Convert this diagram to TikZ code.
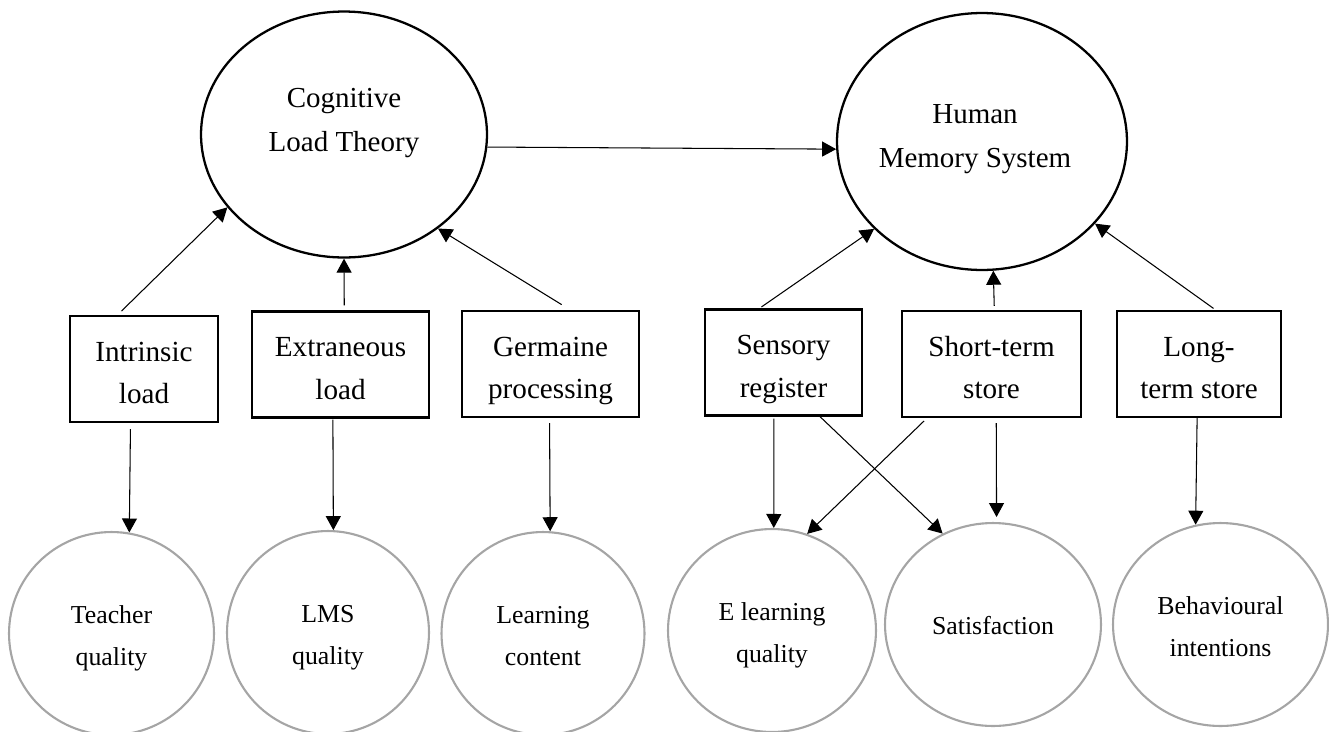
\documentclass[tikz,border=0pt]{standalone}
\usepackage{fontspec}
\setmainfont{Liberation Serif}
\usepackage{tikz}
\usetikzlibrary{arrows.meta, shapes.geometric}
\definecolor{ringgray}{RGB}{165,165,165}

\begin{document}
\begin{tikzpicture}[
  x=0.02cm, y=-0.02cm,
  theory/.style={
    draw, ellipse, line width=1.3pt, inner sep=0pt
  },
  factor/.style={
    draw, rectangle, line width=1.3pt, inner sep=0pt,
    align=center, font=\fontsize{16.6}{24}\selectfont,
    text height=47.3pt, text depth=8pt,
    minimum height=2.12cm
  },
  outcome/.style={
    draw=ringgray, ellipse, line width=1.2pt, inner sep=0pt,
    align=center, font=\fontsize{14.7}{24}\selectfont,
    text height=44.4pt, text depth=8pt,
    minimum height=4.06cm
  },
  title/.style={align=center, font=\fontsize{16.5}{25}\selectfont},
  every edge/.style={draw, -{Triangle[length=0.28cm, width=0.3cm]}, line width=0.6pt}
]
  \useasboundingbox (0,0) rectangle (1329,731);

  % the two theories
  \node[theory, minimum width=5.72cm, minimum height=4.92cm] (clt) at (344,134.5) {};
  \node[title] (clttext) at (344,123) {Cognitive\\Load Theory};
  \node[theory, minimum width=5.8cm, minimum height=5.14cm] (hms) at (982,141.5) {};
  \node[title] (hmstext) at (975,139) {Human\\Memory System};

  % boxes
  \node[factor, minimum width=2.96cm] (intr)  at (144,369)    {Intrinsic\\load};
  \node[factor, minimum width=3.54cm] (extr)  at (340.5,364.5) {Extraneous\\load};
  \node[factor, minimum width=3.54cm] (germ)  at (550.5,364)  {Germaine\\processing};
  \node[factor, minimum width=3.14cm] (sens)  at (783.5,362.5) {Sensory\\register};
  \node[factor, minimum width=3.58cm] (short) at (991.5,364)  {Short-term\\store};
  \node[factor, minimum width=3.28cm] (long)  at (1199,364)   {Long-\\term store};

  % outcomes
  \node[outcome, minimum width=4.1cm]  (teach)  at (111.5,633.5) {Teacher\\quality};
  \node[outcome, minimum width=4.04cm] (lms)    at (328,632.5)   {LMS\\quality};
  \node[outcome, minimum width=4.06cm] (learn)  at (543,633.5)   {Learning\\content};
  \node[outcome, minimum width=4.16cm] (elearn) at (772,630.5)   {E learning\\quality};
  \node[outcome, minimum width=4.32cm, text height=19.4pt] (satis) at (993,624.5) {Satisfaction};
  \node[outcome, minimum width=4.3cm]  (behav)  at (1220.5,624.5) {Behavioural\\intentions};

  \draw (clt.355) edge (hms.183);

  \draw (intr.116) edge[shorten <=0.11cm] (clt.212);
  \draw (extr.86)  edge[shorten <=0.1cm]  (clt.270);
  \draw (germ.70)  edge[shorten <=0.2cm]  (clt.315);
  \draw (sens.114) edge[shorten <=0.05cm] (hms.219);
  \draw (short.87) edge[shorten <=0.08cm] (hms.275);
  \draw (long.73)  edge[shorten <=0.05cm] (hms.324);

  \draw (intr.256)  edge[shorten <=0.12cm] (teach.80);
  \draw (extr.262)  edge[shorten <=0.02cm] (lms.87);
  \draw (germ.269)  edge[shorten <=0.1cm]  (learn.86);
  \draw (sens.260)  edge[shorten <=0.04cm] (elearn.89);
  \draw (sens.304)  edge                   (satis.119);
  \draw (short.220) edge[shorten <=0.08cm] (elearn.70);
  \draw (short.275) edge[shorten <=0.1cm, shorten >=0.1cm] (satis.88);
  \draw (long.268)  edge                   (behav.104);
\end{tikzpicture}
\end{document}
